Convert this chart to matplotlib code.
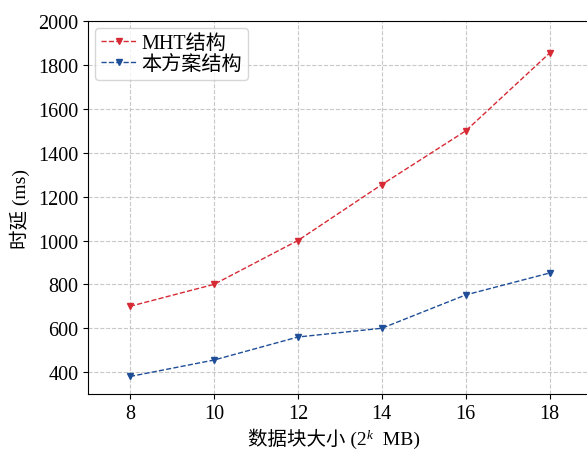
import matplotlib
matplotlib.use('Agg')
import matplotlib.pyplot as plt

plt.rcParams['font.family'] = ['Liberation Serif', 'Noto Sans CJK SC']

block_k = [8, 10, 12, 14, 16, 18]
mht_delay = [700, 800, 1000, 1255, 1500, 1855]
ours_delay = [380, 455, 560, 600, 752, 852]

fig = plt.figure(figsize=(5.87, 4.52), dpi=100)
ax = fig.add_axes([0.150, 0.126, 0.858, 0.825])

ax.plot(block_k, mht_delay, linestyle='--', marker='v', color='#d62a35',
        linewidth=1.0, markersize=5, label='MHT结构')
ax.plot(block_k, ours_delay, linestyle='--', marker='v', color='#1f4e98',
        linewidth=1.0, markersize=5, label='本方案结构')

ax.set_xlim(7, 19)
ax.set_ylim(300, 2000)
ax.set_xticks(block_k)
ax.set_yticks(range(400, 2001, 200))
ax.tick_params(labelsize=14.5)
ax.grid(True, linestyle='--', color='#c8c8c8', linewidth=0.8)
ax.set_axisbelow(True)

# x 轴标签: 分三段拼接, 中文 + 上标 k
y_base = 0.016
t1 = fig.text(248 / 587, y_base, '数据块大小 (2', fontsize=14, va='baseline')
t2 = ax.annotate('k', xy=(1, 0.48), xycoords=t1, fontsize=9.5,
                 fontstyle='italic', va='baseline', ha='left',
                 annotation_clip=False)
ax.annotate('  MB)', xy=(1, y_base), xycoords=(t2, 'figure fraction'),
            fontsize=14, va='baseline', ha='left', annotation_clip=False)
ax.set_ylabel('时延 (ms)', fontsize=14, labelpad=6)

ax.legend(loc='upper left', fontsize=14.5, handlelength=1.75, borderpad=0.3,
          labelspacing=0.1, handletextpad=0.25, borderaxespad=0.35)

fig.savefig('out.png', dpi=100)
